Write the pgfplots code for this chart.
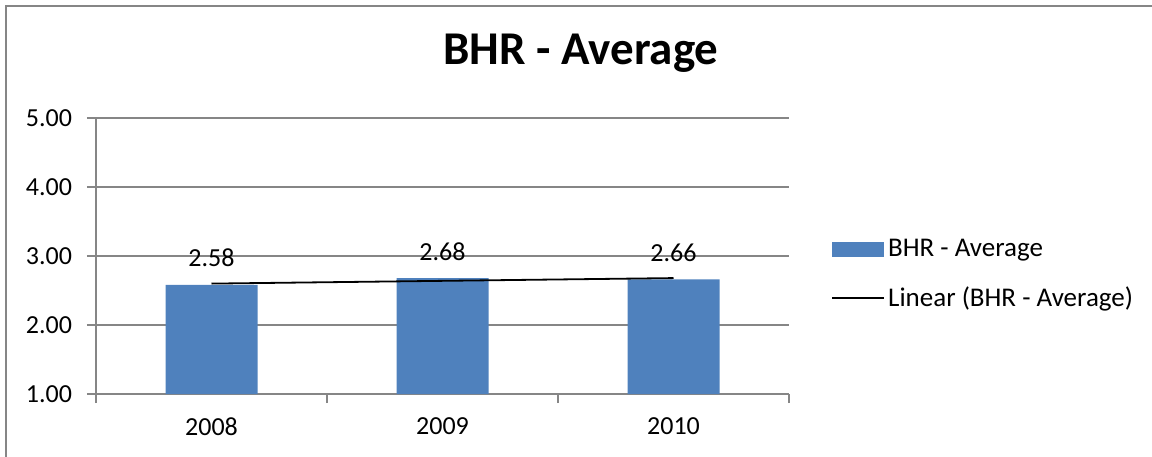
\documentclass[border=0pt]{standalone}
\usepackage{pgfplots}
\pgfplotsset{compat=1.18}
\usepackage{fontspec}
\setmainfont{Carlito}
\definecolor{barblue}{HTML}{4F81BD}
\definecolor{gridgray}{HTML}{868686}
\begin{document}
\begin{tikzpicture}[font=\fontsize{13pt}{15pt}\selectfont]
\path[use as bounding box] (0,0) rectangle (576pt,228pt);
\draw[gridgray, line width=1pt] (3pt,-5pt) -- (3pt,224.75pt) -- (590pt,224.75pt);
\node[font=\fontsize{23.5pt}{27pt}\selectfont\bfseries, anchor=base] at (290.5pt,195.5pt) {BHR - Average};
\begin{axis}[
  at={(48pt,31pt)}, anchor=south west,
  scale only axis, width=346.5pt, height=138pt,
  xmin=-0.5, xmax=2.5, ymin=1, ymax=5,
  ytick={1,2,3,4,5},
  xtick={-0.5,0.5,1.5,2.5}, xticklabels={},
  extra x ticks={0,1,2}, extra x tick labels={2008,2009,2010},
  extra x tick style={major tick length=0pt, grid=none, tick label style={yshift=-8.5pt}},
  axis x line*=bottom, axis y line*=left,
  axis line style={draw=gridgray, line width=0.75pt, -},
  ymajorgrids, grid style={gridgray, line width=0.75pt},
  tick style={gridgray, line width=0.75pt},
  major tick length=4.5pt,
  tick align=outside,
  /pgf/number format/assume math mode=true,
  yticklabel style={xshift=-4pt, /pgf/number format/.cd, fixed, fixed zerofill, precision=2},
  tick label style={font=\fontsize{13pt}{15pt}\selectfont, text=black},
  legend style={at={(1.0606,0.4348)}, anchor=west, draw=none, fill=none,
    inner sep=0pt, row sep=13.5pt, font=\fontsize{13.5pt}{16pt}\selectfont,
    nodes={inner sep=0pt},
    /tikz/every odd column/.append style={column sep=1.5pt}},
  legend cell align=left,
]
\addplot[ybar, bar width=46pt, bar shift=0pt, fill=barblue, draw=none,
  nodes near coords,
  nodes near coords style={/pgf/number format/.cd, fixed, fixed zerofill, precision=2, /tikz/.cd, text=black, font=\fontsize{13pt}{15pt}\selectfont, anchor=base, yshift=9pt, inner sep=0pt},
  legend image code/.code={\fill[barblue] (0pt,-3.75pt) rectangle (26pt,3.75pt);}]
  coordinates {(0,2.58) (1,2.68) (2,2.66)};
\addlegendentry{BHR - Average}
\addplot[black, line width=0.9pt, sharp plot, mark=none,
  legend image code/.code={\draw[black, line width=0.9pt] (0pt,0pt) -- (26pt,0pt);}]
  coordinates {(0,2.60) (2,2.68)};
\addlegendentry{Linear (BHR - Average)}
\end{axis}
\end{tikzpicture}
\end{document}
